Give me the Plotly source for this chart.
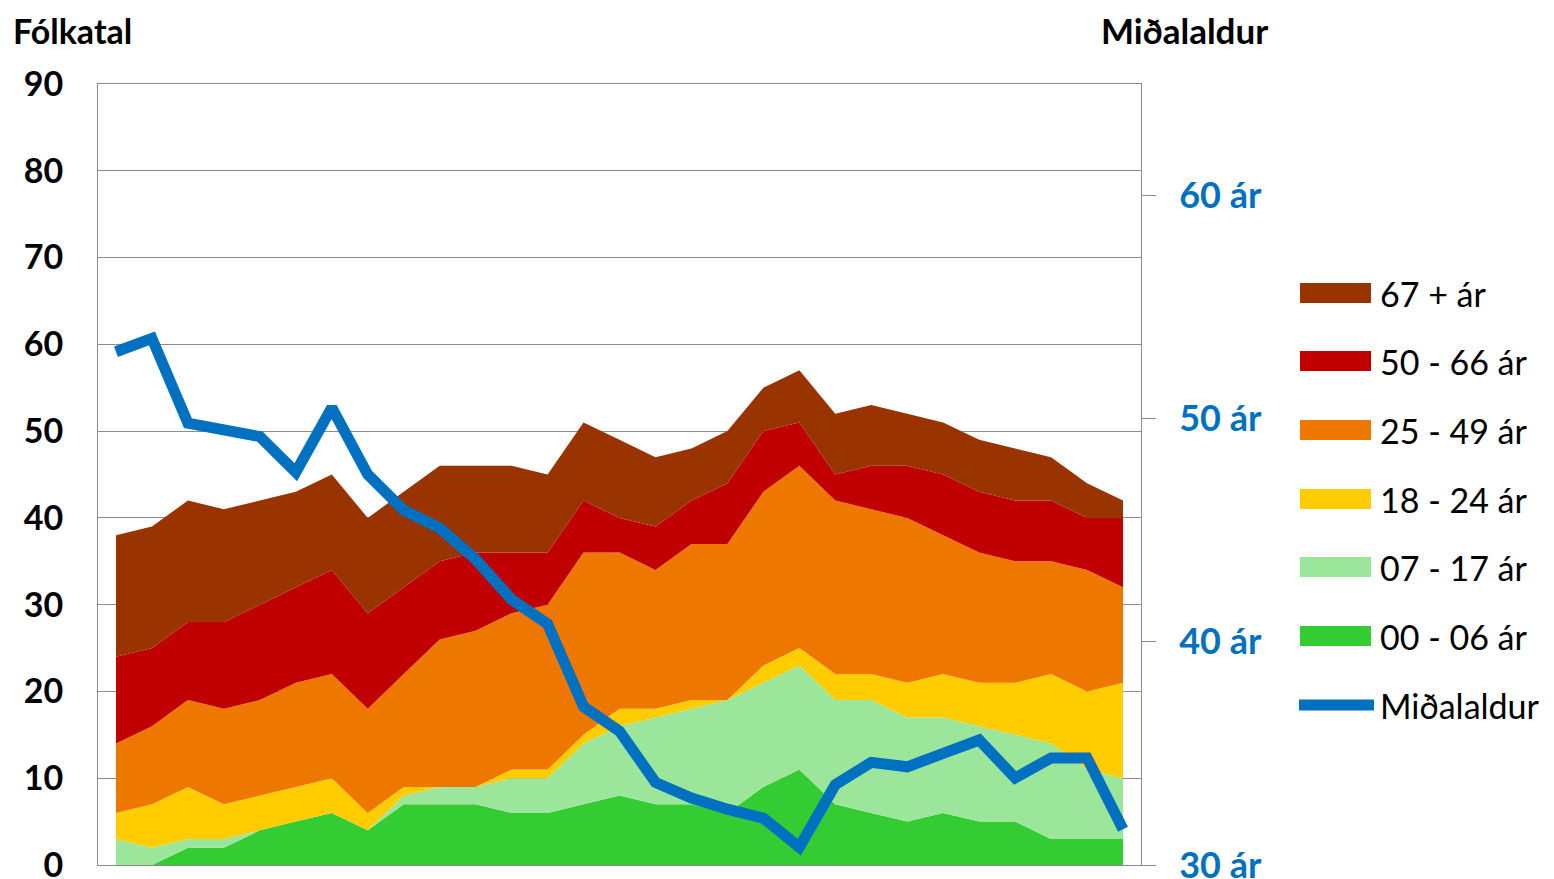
import plotly.graph_objects as go

# ---------------- data ----------------
points = list(range(29))  # 29 time points (x labels not visible in the reference)

series_names = ["00 - 06 ár", "07 - 17 ár", "18 - 24 ár", "25 - 49 ár", "50 - 66 ár", "67 + ár"]
series_colors = ["#33CC33", "#9CE69C", "#FFCC00", "#EE7700", "#C00000", "#993300"]

age_00_06 = [0, 0, 2, 2, 4, 5, 6, 4, 7, 7, 7, 6, 6, 7, 8, 7, 7, 6, 9, 11, 7, 6, 5, 6, 5, 5, 3, 3, 3]
age_07_17 = [3, 2, 1, 1, 0, 0, 0, 0, 1, 2, 2, 4, 4, 7, 8, 10, 11, 13, 12, 12, 12, 13, 12, 11, 11, 10, 11, 8, 7]
age_18_24 = [3, 5, 6, 4, 4, 4, 4, 2, 1, 0, 0, 1, 1, 1, 2, 1, 1, 0, 2, 2, 3, 3, 4, 5, 5, 6, 8, 9, 11]
age_25_49 = [8, 9, 10, 11, 11, 12, 12, 12, 13, 17, 18, 18, 19, 21, 18, 16, 18, 18, 20, 21, 20, 19, 19, 16, 15, 14, 13, 14, 11]
age_50_66 = [10, 9, 9, 10, 11, 11, 12, 11, 10, 9, 9, 7, 6, 6, 4, 5, 5, 7, 7, 5, 3, 5, 6, 7, 7, 7, 7, 6, 8]
age_67_up = [14, 14, 14, 13, 12, 11, 11, 11, 11, 11, 10, 10, 9, 9, 9, 8, 6, 6, 5, 6, 7, 7, 6, 6, 6, 6, 5, 4, 2]

median_age = [53.0, 53.6, 49.8, 49.5, 49.2, 47.6, 50.5, 47.5, 45.9, 45.1, 43.7, 41.9, 40.8, 37.1, 36.0,
              33.7, 33.0, 32.5, 32.1, 30.8, 33.6, 34.6, 34.4, 35.0, 35.6, 33.9, 34.8, 34.8, 31.6]
line_name = "Miðalaldur"
line_color = "#0070C0"

left_ticks = [0, 10, 20, 30, 40, 50, 60, 70, 80, 90]
right_ticks = [30, 40, 50, 60]
right_ticktext = [f"{v} ár" for v in right_ticks]

series_values = [age_00_06, age_07_17, age_18_24, age_25_49, age_50_66, age_67_up]

# ---------------- figure ----------------
# the page body has an 8px margin, so the figure is laid out 8px smaller
OFF = 8
W, H = 1554 - OFF, 879 - OFF
ML, MT = 98 - OFF, 84 - OFF
PW, PH = 1141 - 98, 865 - 84
MR = W - ML - PW
MB = H - MT - PH

def px_x(px):  # page pixel -> paper coord
    return (px - OFF - ML) / PW

def px_y(py):
    return (MT + PH - (py - OFF)) / PH

fig = go.Figure()
for name, color, vals in zip(series_names, series_colors, series_values):
    fig.add_trace(go.Scatter(
        x=points, y=vals, name=name, stackgroup="one", mode="none",
        fillcolor=color, showlegend=False, yaxis="y",
    ))

fig.add_trace(go.Scatter(
    x=points, y=median_age, name=line_name, mode="lines", yaxis="y2",
    line=dict(color=line_color, width=11), showlegend=False,
))

GRID = "#8C8C8C"
FONT = "Lato"

fig.update_layout(
    width=W, height=H,
    margin=dict(l=ML, r=MR, t=MT, b=MB, pad=0, autoexpand=False),
    paper_bgcolor="white", plot_bgcolor="white",
    font=dict(family=FONT, color="black"),
    xaxis=dict(range=[-0.5, 28.5], showticklabels=False, showgrid=False, zeroline=False,
               showline=True, linecolor=GRID, linewidth=1, mirror=True, ticks="",
               automargin=False),
    yaxis=dict(range=[0, 90], tickvals=left_ticks, showgrid=True, gridcolor=GRID, gridwidth=1,
               zeroline=False, showline=True, linecolor=GRID, linewidth=1, mirror=True, ticks="",
               tickfont=dict(family=FONT, size=34, color="black", weight="bold"),
               ticklabelstandoff=27, ticklabeloverflow="allow", automargin=False),
    yaxis2=dict(range=[30, 65], overlaying="y", side="right", tickvals=right_ticks,
                ticktext=right_ticktext, showgrid=False, zeroline=False, showline=True,
                linecolor=GRID, linewidth=1, ticks="outside", ticklen=14, tickcolor=GRID,
                tickfont=dict(family=FONT, size=36, color=line_color, weight="bold"),
                ticklabelstandoff=16, ticklabeloverflow="allow", automargin=False),
    showlegend=False,
)

annotations = [
    dict(text="<b>Fólkatal</b>", xref="paper", yref="paper", x=px_x(11), y=px_y(30),
         xanchor="left", yanchor="middle", showarrow=False, font=dict(size=34, family=FONT)),
    dict(text="<b>Miðalaldur</b>", xref="paper", yref="paper", x=px_x(1099), y=px_y(30),
         xanchor="left", yanchor="middle", showarrow=False, font=dict(size=35, family=FONT)),
]
shapes = []

# manual legend (Excel style: big colour blocks)
leg_rows = [293, 361, 430, 499, 567, 636]
for (name, color), cy in zip(list(zip(series_names, series_colors))[::-1], leg_rows):
    shapes.append(dict(type="rect", xref="paper", yref="paper",
                       x0=px_x(1300), x1=px_x(1371), y0=px_y(cy + 10), y1=px_y(cy - 10),
                       fillcolor=color, line=dict(width=0)))
    annotations.append(dict(text=name, xref="paper", yref="paper", x=px_x(1378), y=px_y(cy),
                            xanchor="left", yanchor="middle", showarrow=False,
                            font=dict(size=34, family=FONT, color="black")))
cy = 705
shapes.append(dict(type="line", xref="paper", yref="paper", x0=px_x(1299), x1=px_x(1374),
                   y0=px_y(cy), y1=px_y(cy), line=dict(color=line_color, width=11)))
annotations.append(dict(text=line_name, xref="paper", yref="paper", x=px_x(1378), y=px_y(cy),
                        xanchor="left", yanchor="middle", showarrow=False,
                        font=dict(size=34, family=FONT, color="black")))

fig.update_layout(annotations=annotations, shapes=shapes)

fig.write_html("out.html")
